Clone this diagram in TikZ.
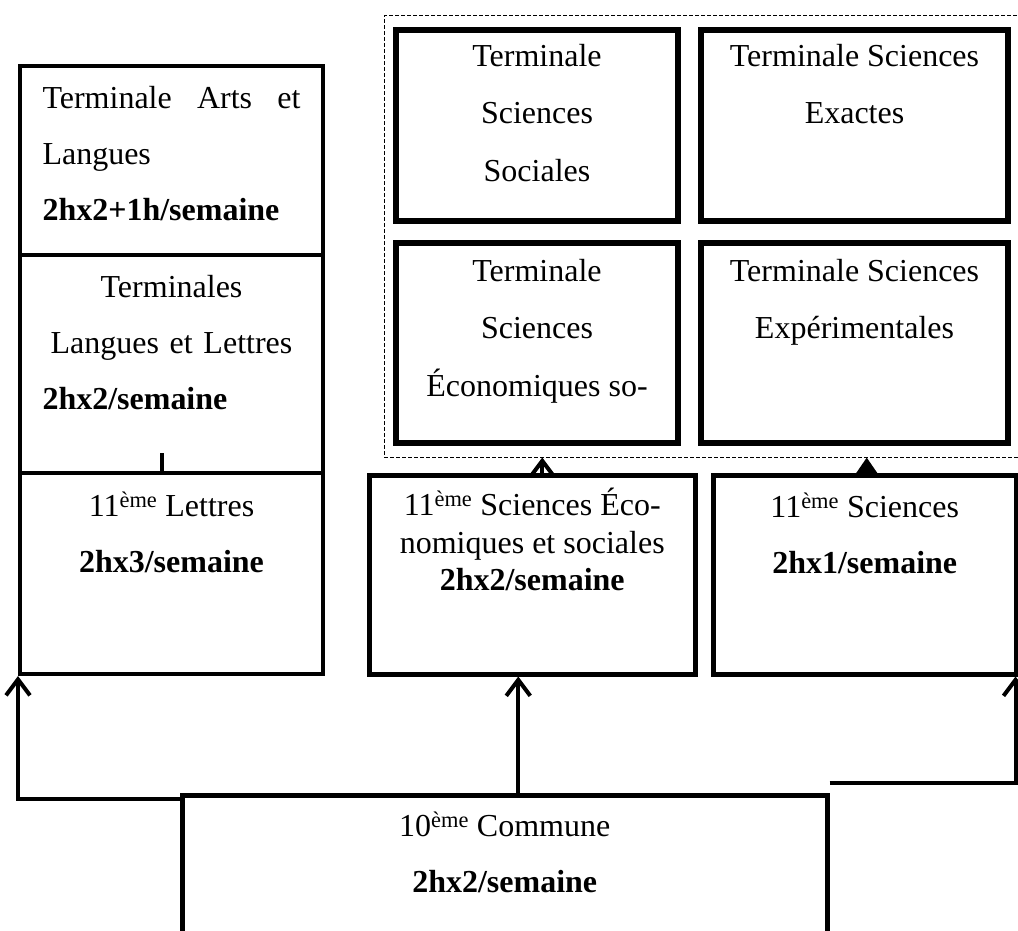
\documentclass[tikz,border=0pt]{standalone}
\usepackage{fontspec}
\setmainfont{Liberation Serif}
\usetikzlibrary{arrows.meta,calc,positioning,fit}

\tikzset{
  box/.style={draw,rectangle,line width=4pt,inner sep=0pt,anchor=north west},
  tbox/.style={box,line width=6pt},
  txt/.style={inner sep=0pt,anchor=north,align=center,font=\fontsize{32}{56}\selectfont},
  ttxt/.style={txt,font=\fontsize{32}{57.5}\selectfont},
  conn/.style={line width=4pt,-{Straight Barb[length=16pt,width=24pt]}},
}

\begin{document}
\begin{tikzpicture}[x=1pt,y=-1pt]
  \path[use as bounding box,clip] (0,0) rectangle (1018,931);
  % left column
  \node[box,minimum width=303pt,minimum height=189pt] (tal) at (18,64) {};
  \node[box,minimum width=303pt,minimum height=218pt] (tll) at (18,253) {};
  \node[box,minimum width=303pt,minimum height=201pt] (l11) at (18,471) {};
  \node[txt,below=22pt of tal.north,text width=258pt,align=left] (taltxt) {Terminale\hfill Arts\hfill et\\Langues\\\textbf{2hx2+1h/semaine}};
  \node[txt,below=22pt of tll.north,text width=258pt] (tlltxt) {Terminales\\Langues et Lettres\\\makebox[258pt][l]{\textbf{2hx2/semaine}}};
  \node[txt,below=21pt of l11.north] (l11txt) {11\textsuperscript{ème} Lettres\\\textbf{2hx3/semaine}};
  % 11eme
  \node[box,line width=4.5pt,minimum width=326pt,minimum height=199pt] (s11) at (367,473) {};
  \node[box,line width=4.5pt,minimum width=303pt,minimum height=199pt] (sc11) at (711,473) {};
  \node[txt,below=15pt of s11.north,font=\fontsize{32}{37.5}\selectfont] (s11txt) {11\textsuperscript{ème} Sciences Éco-\\nomiques et sociales\\\textbf{2hx2/semaine}};
  \node[txt,below=20pt of sc11.north] (sc11txt) {11\textsuperscript{ème} Sciences\\\textbf{2hx1/semaine}};
  % terminales sciences
  \node[tbox,minimum width=282pt,minimum height=191pt] (tss) at (393,27) {};
  \node[tbox,minimum width=307pt,minimum height=191pt] (tse) at (698,27) {};
  \node[tbox,minimum width=282pt,minimum height=200pt] (tses) at (393,240) {};
  \node[tbox,minimum width=307pt,minimum height=200pt] (tsx) at (698,240) {};
  \node[ttxt,below=17pt of tss.north] (tsstxt) {Terminale\\Sciences\\Sociales};
  \node[ttxt,below=17pt of tse.north] (tsetxt) {Terminale Sciences\\Exactes};
  \node[ttxt,below=19pt of tses.north] (tsestxt) {Terminale\\Sciences\\Économiques so-};
  \node[ttxt,below=19pt of tsx.north] (tsxtxt) {Terminale Sciences\\Expérimentales};
  \node[draw,dashed,dash pattern=on 4pt off 2pt,line width=1pt,inner xsep=9pt,inner ysep=11pt,fit=(tss)(tsx)] (grp) {};
  % 10eme
  \node[box,line width=4.5pt,minimum width=645pt,minimum height=200pt] (c10) at (180,793) {};
  \node[txt,below=19pt of c10.north] (c10txt) {10\textsuperscript{ème} Commune\\\textbf{2hx2/semaine}};
  % connectors
  \draw[conn] ([xshift=13.5pt]c10.north) -- ([xshift=13.5pt]c10.north |- s11.south);
  \draw[conn] ([yshift=-6pt]c10.north west) -| (l11.south west);
  \draw[conn] ([yshift=10pt]c10.north east) -| ([xshift=-3pt]sc11.south east);
  \draw[conn] ([xshift=10pt]s11.north) -- ([xshift=10pt]s11.north |- grp.south);
  \draw[line width=4pt,-{Triangle[length=17pt,width=22pt]}] ([xshift=2pt]sc11.north) -- ([xshift=2pt]sc11.north |- grp.south);
  \draw[line width=4pt] ([xshift=-9.5pt]l11.north) -- ++(0,-18);
\end{tikzpicture}
\end{document}
